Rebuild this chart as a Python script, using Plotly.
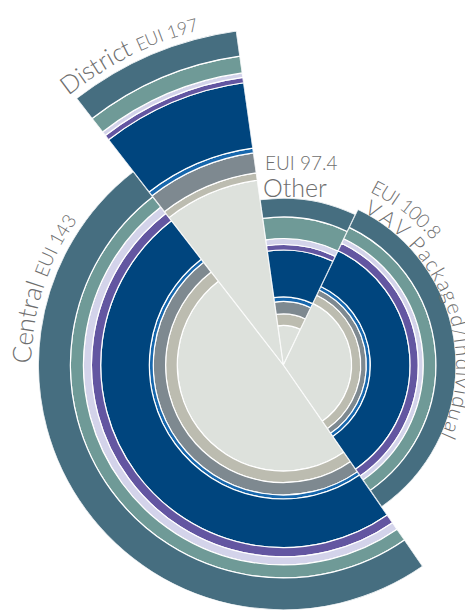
import math
import plotly.graph_objects as go

# regions, clockwise from the top
regions = ["Other", "VAV Packaged/Individual", "Central", "District"]
eui = [97.4, 100.8, 143, 197]
share = [9.33, 33.25, 49.14, 8.28]  # % of the circle for each region

# stacked end-use layers, inner to outer (one value per region)
light_grey = [23.1, 39.9, 61.9, 108.9]
tan = [6.7, 5.3, 6.8, 4.4]
grey = [7.3, 3.3, 7.2, 11.7]
bright_blue = [2.6, 2.3, 2.3, 2.9]
dark_blue = [27.4, 23.2, 28.4, 38.5]
purple = [3.2, 4.8, 5.4, 3.2]
lavender = [3.5, 2.9, 4.7, 2.6]
teal = [12.6, 7.4, 7.6, 9.9]
slate = [11.0, 11.7, 18.7, 14.9]

layers = [
    (light_grey, "#dde1dc"),
    (tan, "#bcbcb0"),
    (grey, "#7e8990"),
    (bright_blue, "#1767ad"),
    (dark_blue, "#00457e"),
    (purple, "#6356a1"),
    (lavender, "#d3d3ea"),
    (teal, "#6f9a97"),
    (slate, "#466e80"),
]

# page geometry (the page body has an 8px margin)
W, H = 473, 611
OFF = 8
CX, CY = 283.3 - OFF, 365.0 - OFF   # circle centre in figure px
PX_PER_UNIT = 1.713
START = -8                          # angle where the first region begins

widths = [s * 3.6 for s in share]
starts = []
a = START
for w in widths:
    starts.append(a)
    a += w


def sector_bbox(g0, g1):
    # bounding box of a unit-circle wedge (with its centre), geometric degrees
    xs, ys = [0.0], [0.0]
    for g in [g0, g1] + [k * 90 for k in range(-8, 9) if g0 < k * 90 < g1]:
        xs.append(math.cos(math.radians(g)))
        ys.append(math.sin(math.radians(g)))
    return min(xs), min(ys), max(xs), max(ys)


fig = go.Figure()
polars = {}
for i, name in enumerate(regions):
    sub = "polar" if i == 0 else "polar%d" % (i + 1)
    th0, th1 = starts[i], starts[i] + widths[i]
    g0, g1 = 90 - th1, 90 - th0
    x0, y0, x1, y1 = sector_bbox(g0, g1)
    R = eui[i] * PX_PER_UNIT
    polars[sub] = dict(
        sector=[g0, g1],
        domain=dict(x=[(CX + R * x0) / W, (CX + R * x1) / W],
                    y=[1 - (CY - R * y0) / H, 1 - (CY - R * y1) / H]),
        bgcolor="rgba(0,0,0,0)",
        barmode="stack", bargap=0,
        radialaxis=dict(visible=False, range=[0, eui[i]]),
        angularaxis=dict(visible=False, direction="clockwise", rotation=90),
    )
    for vals, col in layers:
        fig.add_trace(go.Barpolar(
            r=[vals[i]], theta=[th0 + widths[i] / 2], width=[widths[i]],
            subplot=sub,
            marker=dict(color=col, line=dict(color="white", width=1.2)),
            hoverinfo="skip",
        ))

TXT = "#6e6e6e"
FONT = "Lato Light, Lato"

CHAR_W = {
    'A': .68, 'C': .67, 'D': .74, 'E': .57, 'I': .28, 'O': .77, 'P': .58,
    'U': .71, 'V': .68, 'a': .50, 'c': .45, 'd': .56, 'e': .52, 'g': .50,
    'h': .55, 'i': .24, 'k': .50, 'l': .24, 'n': .55, 'r': .37, 's': .42,
    't': .36, 'u': .55, 'v': .50, '/': .37, ' ': .26, '.': .24,
}


def arc_text(parts, start_deg, r_base, track=1.0):
    anns = []
    ang = math.radians(start_deg)
    for text, size in parts:
        rc = r_base + 0.35 * size
        for ch in text:
            w = CHAR_W.get(ch, 0.58) * size * track
            mid = ang + (w / 2) / rc
            if ch != " ":
                x = CX + rc * math.sin(mid)
                y = CY - rc * math.cos(mid)
                deg = (math.degrees(mid) + 180) % 360 - 180
                anns.append(dict(
                    x=x / W, y=1 - y / H, xref="paper", yref="paper",
                    text=ch, showarrow=False, textangle=deg,
                    xanchor="center", yanchor="middle",
                    font=dict(family=FONT, size=size, color=TXT, weight=300),
                ))
            ang += w / rc
    return anns


anns = []
anns += arc_text([("District ", 25), ("EUI %g" % eui[3], 18)], 321.5, 346)
anns += arc_text([("Central ", 26), ("EUI %g" % eui[2], 19)], 270.5, 253)
anns += arc_text([(regions[1], 21)], 27.5, 174, track=1.19)
anns += arc_text([("EUI %g" % eui[1], 19)], 26.5, 195)
anns.append(dict(x=(263 - OFF) / W, y=1 - (162 - OFF) / H,
                 xref="paper", yref="paper",
                 text="EUI %g" % eui[0], showarrow=False,
                 xanchor="left", yanchor="middle",
                 font=dict(family=FONT, size=19, color=TXT, weight=300)))
anns.append(dict(x=(261 - OFF) / W, y=1 - (187 - OFF) / H,
                 xref="paper", yref="paper",
                 text=regions[0], showarrow=False,
                 xanchor="left", yanchor="middle",
                 font=dict(family=FONT, size=25, color=TXT, weight=300)))

fig.update_layout(
    width=W, height=H,
    margin=dict(l=0, r=0, t=0, b=0),
    paper_bgcolor="white",
    showlegend=False,
    annotations=anns,
    **polars,
)

fig.write_html("out.html")
